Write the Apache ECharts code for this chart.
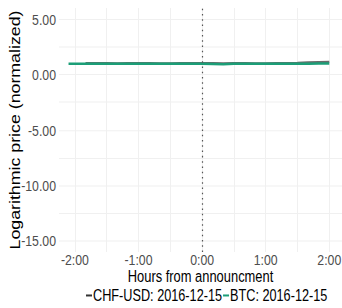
<!DOCTYPE html>
<html>
<head>
<meta charset="utf-8">
<script src="https://cdn.jsdelivr.net/npm/echarts@6/dist/echarts.min.js"></script>
<style>
  html { overflow: hidden; }
  html, body { margin: 0; padding: 0; background: #fff; }
  body { width: 342px; height: 308px; }
  /* the reference is stretched vertically, so draw at 246px tall and stretch */
  #chart { width: 342px; height: 246px; transform: scaleY(1.252); transform-origin: 0 0; }
</style>
</head>
<body>
<div id="chart"></div>
<script>
// hours from announcement
const hours = [-2.1, -2.0, -1.833, -1.667, -1.5, -1.333, -1.167, -1.0, -0.833, -0.667, -0.5, -0.333, -0.167,
  0.0, 0.167, 0.333, 0.5, 0.667, 0.833, 1.0, 1.167, 1.333, 1.5, 1.667, 1.833, 2.0];
const chfUsd = [null, null, 1.04, 1.04, 1.04, 1.0, 1.03, 1.04, 1.04, 1.0, 1.0, 1.03, 1.04,
  1.04, 1.03, 1.0, 1.04, 1.03, 1.0, 1.0, 1.02, 1.04, 1.06, 1.1, 1.12, 1.14];
const btc = [0.98, 0.98, 0.98, 0.98, 0.98, 0.98, 0.98, 0.98, 0.98, 0.98, 0.98, 0.98, 0.98,
  0.98, 0.96, 0.93, 0.98, 0.98, 0.98, 0.98, 0.98, 0.98, 0.98, 0.98, 1.0, 1.0];
const yLabels = [-15, -10, -5, 0, 5];
const yGrid = [-15, -12.5, -10, -7.5, -5, -2.5, 0, 2.5, 5];
const xLabels = [-2, -1, 0, 1, 2];
const xGrid = [-2, -1.5, -1, -0.5, 0, 0.5, 1, 1.5, 2];

const pair = (ys) => hours.map((h, i) => [h, ys[i]]);

const chart = echarts.init(document.getElementById('chart'), null, { renderer: 'svg' });
chart.setOption({
  animation: false,
  textStyle: { fontFamily: '"Liberation Sans", Arial, sans-serif' },
  grid: { left: 59, right: 0, top: 6.4, bottom: 44.7, outerBoundsMode: 'none', containLabel: false },
  xAxis: {
    type: 'value', min: -2.25, max: 2.2,
    name: 'Hours from announcment', nameLocation: 'middle', nameGap: 13.2, nameMoveOverlap: false,
    nameTextStyle: { color: '#000', fontSize: 12.9 },
    axisLine: { show: false },
    axisTick: { show: false, customValues: xGrid },
    axisLabel: {
      customValues: xLabels, color: '#4d4d4d', fontSize: 12.3, margin: 0,
      formatter: v => (v < 0 ? '-' : '') + Math.abs(v) + ':00'
    },
    splitLine: { show: true, lineStyle: { color: '#f0f0f0', width: 1 } }
  },
  yAxis: {
    type: 'value', min: -16, max: 6,
    name: 'Logarithmic price (normalized)', nameLocation: 'middle', nameGap: 37, nameMoveOverlap: false,
    nameTextStyle: { color: '#000', fontSize: 14.2 },
    axisLine: { show: false },
    axisTick: { show: false, customValues: yGrid },
    axisLabel: {
      customValues: yLabels, color: '#4d4d4d', fontSize: 12.3, margin: 3,
      formatter: v => v.toFixed(2)
    },
    splitLine: { show: true, lineStyle: { color: '#f0f0f0', width: 0.8 } }
  },
  legend: {
    top: 229.5, left: 86, itemWidth: 6, itemHeight: 1.6, itemGap: 1,
    icon: 'rect', padding: 0,
    textStyle: { color: '#000', fontSize: 12.7, padding: [0, 0, 0, -4] },
    data: ['CHF-USD: 2016-12-15', 'BTC: 2016-12-15']
  },
  series: [
    {
      name: 'CHF-USD: 2016-12-15', type: 'line', data: pair(chfUsd),
      showSymbol: false, symbol: 'none', connectNulls: false,
      itemStyle: { color: '#333333' },
      lineStyle: { color: '#6a6a6a', width: 1.8 },
      markLine: {
        silent: true, symbol: 'none', label: { show: false },
        lineStyle: { color: '#555', type: [1.2, 3], width: 1.2 },
        data: [{ xAxis: 0 }]
      }
    },
    {
      name: 'BTC: 2016-12-15', type: 'line', data: pair(btc),
      showSymbol: false, symbol: 'none',
      itemStyle: { color: '#1b9e77' },
      lineStyle: { color: '#1b9e77', width: 2 }
    }
  ]
});
</script>
</body>
</html>
